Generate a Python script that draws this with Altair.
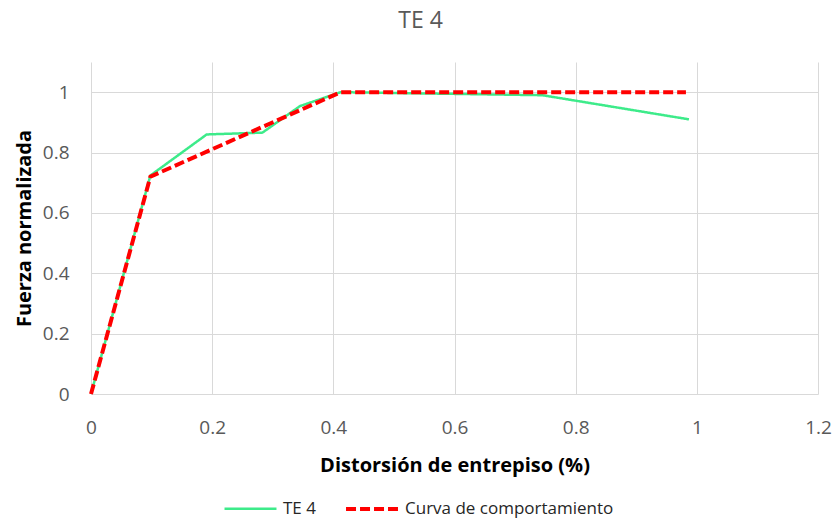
import altair as alt
import pandas as pd

te4_x = [0.0, 0.098, 0.191, 0.283, 0.345, 0.412, 0.745, 0.987]
te4_y = [0.0, 0.724, 0.860, 0.866, 0.954, 1.0, 0.990, 0.910]
curva_x = [0.0, 0.098, 0.412, 0.982]
curva_y = [0.0, 0.720, 1.0, 1.0]
series = ["TE 4", "Curva de comportamiento"]

rows = []
for i, (x, y) in enumerate(zip(te4_x, te4_y)):
    rows.append({"x": x, "y": y, "serie": series[0], "o": i})
for i, (x, y) in enumerate(zip(curva_x, curva_y)):
    rows.append({"x": x, "y": y, "serie": series[1], "o": i})
df = pd.DataFrame(rows)

font = "Open Sans"

chart = alt.Chart(df).mark_line(clip=False).encode(
    x=alt.X("x:Q",
            scale=alt.Scale(domain=[0, 1.2], nice=False),
            axis=alt.Axis(values=[0, 0.2, 0.4, 0.6, 0.8, 1.0, 1.2], format=".1~f",
                          title="Distorsión de entrepiso (%)", titleFontSize=20,
                          titleFontWeight="bold", titleColor="#000000", titlePadding=18,
                          labelFontSize=19, labelColor="#595959", labelPadding=24,
                          labelFlush=False, ticks=False, domain=False, grid=True,
                          gridColor="#d9d9d9")),
    y=alt.Y("y:Q",
            scale=alt.Scale(domain=[0, 1.1], nice=False),
            axis=alt.Axis(values=[0, 0.2, 0.4, 0.6, 0.8, 1.0], format=".1~f",
                          title="Fuerza normalizada", titleFontSize=20,
                          titleFontWeight="bold", titleColor="#000000", titlePadding=8,
                          labelFontSize=19, labelColor="#595959", labelPadding=22,
                          labelFlush=False, ticks=False, domain=False, grid=True,
                          gridColor="#d9d9d9")),
    color=alt.Color("serie:N",
                    scale=alt.Scale(domain=series, range=["#3DEB8A", "#FF0000"]),
                    legend=alt.Legend(title=None, orient="none", direction="horizontal",
                                      legendX=132, legendY=419,
                                      symbolType="stroke", symbolSize=2700,
                                      symbolStrokeWidth=3.5, labelFontSize=17,
                                      labelColor="#262626", columnPadding=22,
                                      labelOffset=5, labelLimit=400)),
    strokeDash=alt.StrokeDash("serie:N",
                              scale=alt.Scale(domain=series, range=[[1, 0], [10, 4]]),
                              legend=None),
    strokeWidth=alt.StrokeWidth("serie:N",
                                scale=alt.Scale(domain=series, range=[2.5, 4]),
                                legend=None),
    order="o:Q",
).properties(
    width=727, height=332,
    title=alt.TitleParams("TE 4", fontSize=23, fontWeight="normal", color="#595959",
                          offset=29, dx=-34, font=font),
    autosize="none",
    padding={"left": 83, "top": 54, "right": 14, "bottom": 126},
).configure(font=font).configure_view(stroke=None)

chart.save("out.html", embed_options={"renderer": "svg", "actions": False})
